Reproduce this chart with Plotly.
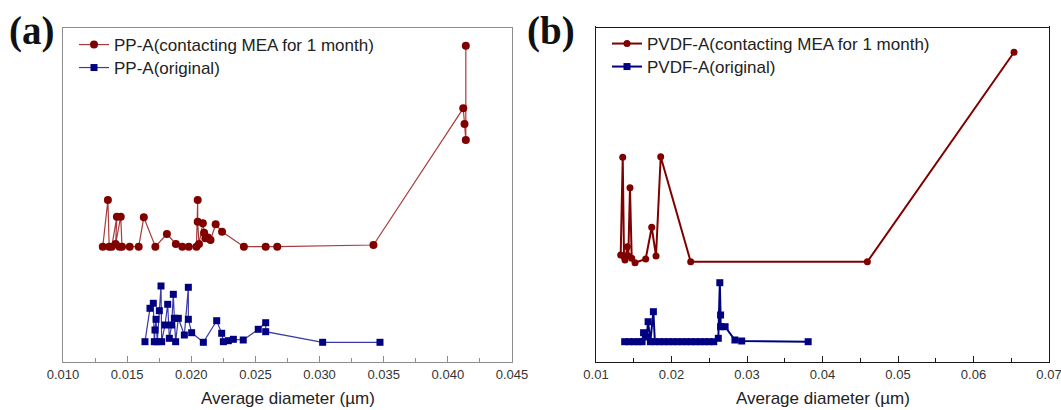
import plotly.graph_objects as go

# Panel (a): PP-A membrane, pore-size distribution (offset curves, arbitrary units)
pp_aged_d = [0.0131, 0.0135, 0.0136, 0.0138, 0.0142, 0.0141, 0.0145, 0.0146, 0.0144,
             0.0152, 0.0159, 0.0163, 0.0172, 0.0181, 0.0188, 0.0193, 0.0198, 0.0204,
             0.0205, 0.0205, 0.0206, 0.0209, 0.0211, 0.0213, 0.0210, 0.0215, 0.0219,
             0.0224, 0.0241, 0.0258, 0.0267, 0.0342, 0.0412, 0.0413, 0.0414, 0.0414]
pp_aged_v = [11.53, 16.20, 11.53, 11.53, 14.53, 11.80, 14.53, 11.53, 11.53,
             11.53, 11.53, 14.47, 11.53, 12.80, 11.80, 11.53, 11.53, 11.53,
             16.20, 14.03, 11.80, 13.87, 12.37, 12.45, 12.93, 12.20, 13.77,
             13.03, 11.53, 11.53, 11.53, 11.70, 25.37, 23.80, 22.20, 31.63]

pp_orig_d = [0.01639, 0.01678, 0.01704, 0.01712, 0.01717, 0.01725, 0.01735, 0.01751,
             0.01764, 0.01769, 0.01795, 0.01816, 0.01829, 0.01847, 0.01860, 0.01868,
             0.01878, 0.01899, 0.01946, 0.01977, 0.01977, 0.02003, 0.02094, 0.02198,
             0.02237, 0.02250, 0.02289, 0.02328, 0.02405, 0.02522, 0.02580, 0.02580,
             0.03024, 0.03471]
pp_orig_v = [2.03, 5.37, 5.87, 2.03, 3.20, 4.27, 2.03, 5.13,
             7.60, 2.03, 3.70, 5.77, 2.37, 3.70, 6.77, 4.37,
             2.03, 4.37, 2.70, 7.47, 4.27, 2.93, 1.97, 4.13,
             2.87, 2.03, 2.13, 2.27, 2.20, 3.27, 3.93, 3.03,
             1.97, 1.97]

# Panel (b): PVDF-A membrane
pvdf_aged_d = [0.01327, 0.01354, 0.01371, 0.01384, 0.01415, 0.01428, 0.01450, 0.01473,
               0.01517, 0.01658, 0.01738, 0.01795, 0.01857, 0.02254, 0.04594, 0.06537]
pvdf_aged_v = [10.70, 20.47, 10.53, 10.20, 11.53, 10.60, 17.43, 10.37,
               9.93, 10.30, 13.47, 10.60, 20.53, 10.03, 10.03, 30.97]

pvdf_orig_d = [0.0138, 0.0144, 0.0150, 0.0156, 0.0161, 0.0163, 0.0167, 0.0169,
               0.0172, 0.0176, 0.0178, 0.0184, 0.0190, 0.0196, 0.0202, 0.0208,
               0.0214, 0.0220, 0.0226, 0.0232, 0.0238, 0.0244, 0.0250, 0.0256,
               0.0262, 0.0264, 0.0265, 0.0265, 0.0271, 0.0284, 0.0293, 0.0381]
pvdf_orig_v = [2.03, 2.03, 2.03, 2.03, 2.03, 2.93, 2.50, 4.03,
               2.03, 5.03, 2.03, 2.03, 2.03, 2.03, 2.03, 2.03,
               2.03, 2.03, 2.03, 2.03, 2.03, 2.03, 2.03, 2.03,
               2.37, 7.93, 4.70, 3.53, 3.53, 2.20, 2.10, 2.03]

# Tick positions for each panel's diameter axis
ticks_a = [0.010, 0.015, 0.020, 0.025, 0.030, 0.035, 0.040, 0.045]
ticks_b = [0.01, 0.02, 0.03, 0.04, 0.05, 0.06, 0.07]

names = ["PP-A(contacting MEA for 1 month)", "PP-A(original)",
         "PVDF-A(contacting MEA for 1 month)", "PVDF-A(original)"]
x_title = "Average diameter (µm)"
panel_tags = ["(a)", "(b)"]

RED = "#800000"
BLUE = "#000080"
W, H = 1061, 410
SANS = "Arial, Liberation Sans, sans-serif"
SERIF = "Liberation Serif, Times New Roman, serif"

fig = go.Figure()
fig.add_trace(go.Scatter(x=pp_aged_d, y=pp_aged_v, name=names[0], mode="lines+markers",
                         line=dict(color="#a83a3a", width=1.2),
                         marker=dict(symbol="circle", size=8, color=RED),
                         xaxis="x", yaxis="y", legend="legend", showlegend=True))
fig.add_trace(go.Scatter(x=pp_orig_d, y=pp_orig_v, name=names[1], mode="lines+markers",
                         line=dict(color="#3a3aa8", width=1.2),
                         marker=dict(symbol="square", size=7, color=BLUE),
                         xaxis="x", yaxis="y", legend="legend2", showlegend=True))
fig.add_trace(go.Scatter(x=pvdf_aged_d, y=pvdf_aged_v, name=names[2], mode="lines+markers",
                         line=dict(color=RED, width=2),
                         marker=dict(symbol="circle", size=7, color=RED),
                         xaxis="x2", yaxis="y2", legend="legend3", showlegend=True))
fig.add_trace(go.Scatter(x=pvdf_orig_d, y=pvdf_orig_v, name=names[3], mode="lines+markers",
                         line=dict(color=BLUE, width=2),
                         marker=dict(symbol="square", size=7, color=BLUE),
                         xaxis="x2", yaxis="y2", legend="legend4", showlegend=True))

tickfont = dict(family=SANS, size=13, color="#333333")


def xaxis_style(domain, tickvals, minor, fmt, linecolor):
    span = tickvals[-1] - tickvals[0]
    return dict(domain=domain, range=[tickvals[0] - span * 1e-6, tickvals[-1] + span * 1e-6],
                tickmode="array", tickvals=tickvals,
                ticktext=[format(v, fmt) for v in tickvals],
                ticklabeloverflow="allow",
                showline=True, mirror=True, linecolor=linecolor, linewidth=1.3,
                ticks="inside", ticklen=6, tickcolor=linecolor, tickwidth=1,
                minor=dict(ticks="inside", tick0=tickvals[0], dtick=minor, ticklen=4,
                           tickcolor=linecolor),
                showgrid=False, zeroline=False, tickfont=tickfont, automargin=False)


def yaxis_style(domain, rng, linecolor, anchor):
    return dict(domain=domain, range=rng, showline=True, mirror=True, linecolor=linecolor,
                linewidth=1.3, showticklabels=False, ticks="", showgrid=False,
                zeroline=False, anchor=anchor, automargin=False)


def legend_row(x_px, y_px):
    return dict(x=x_px / W, y=(H - y_px) / H, xanchor="left", yanchor="middle",
                bgcolor="rgba(0,0,0,0)", font=dict(family=SANS, size=17, color="#222222"),
                itemwidth=30)


def label(text, x_px, y_px, font):
    return dict(text=text, x=x_px / W, y=(H - y_px) / H, xref="paper", yref="paper",
                xanchor="center", yanchor="middle", showarrow=False, font=font)


ybot = (H - 362) / H
title_font = dict(family=SANS, size=17, color="#222222")
tag_font = dict(family=SERIF, size=39, color="#111111")
fig.update_layout(
    width=W, height=H, margin=dict(l=0, r=0, t=0, b=0, autoexpand=False),
    paper_bgcolor="white", plot_bgcolor="white", showlegend=True,
    xaxis=xaxis_style([63 / W, 512 / W], ticks_a, 0.0025, ".3f", "#8c8c8c"),
    yaxis=yaxis_style([ybot, (H - 28) / H], [0, 33.4], "#8c8c8c", "x"),
    xaxis2=xaxis_style([596 / W, 1049 / W], ticks_b, 0.005, ".2f", "#1a1a1a"),
    yaxis2=yaxis_style([ybot, (H - 26) / H], [0, 33.6], "#1a1a1a", "x2"),
    legend=legend_row(74, 45),
    legend2=legend_row(74, 68),
    legend3=legend_row(607, 44),
    legend4=legend_row(607, 67),
    annotations=[
        label(x_title, 287.5, 398.5, title_font),
        label(x_title, 822.5, 398.5, title_font),
        label("<b>%s</b>" % panel_tags[0], 31, 31, tag_font),
        label("<b>%s</b>" % panel_tags[1], 551, 31, tag_font),
    ],
)

fig.write_html("out.html")
